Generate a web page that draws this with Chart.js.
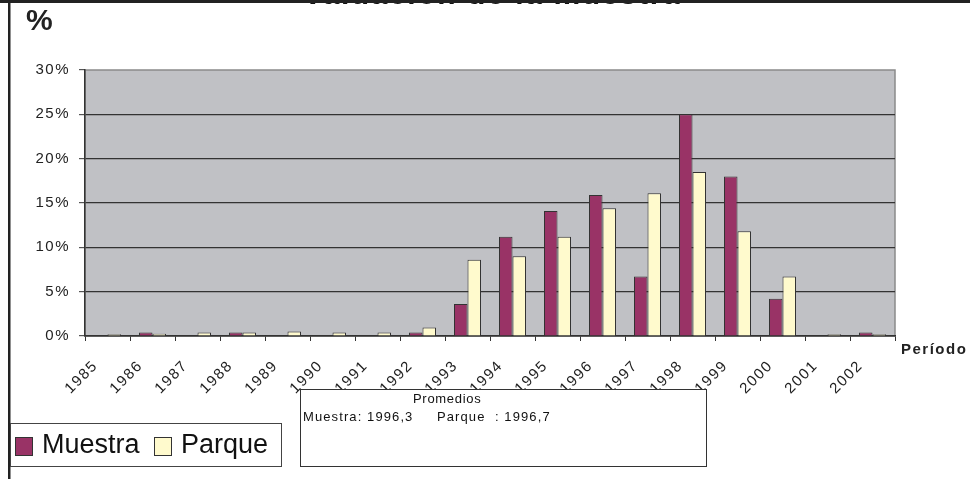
<!DOCTYPE html>
<html>
<head>
<meta charset="utf-8">
<script src="https://cdn.jsdelivr.net/npm/chart.js@4/dist/chart.umd.min.js"></script>
<style>
  html, body { margin: 0; padding: 0; background: #fff; }
  #wrap { position: relative; width: 970px; height: 479px; }
</style>
</head>
<body>
<div id="wrap"><canvas id="chart" width="970" height="479"></canvas></div>
<script>
// Valuación de la muestra - distribución por período
const years = ["1985", "1986", "1987", "1988", "1989", "1990", "1991", "1992", "1993",
  "1994", "1995", "1996", "1997", "1998", "1999", "2000", "2001", "2002"];
const muestra = [0, 0.4, 0, 0.4, 0, 0, 0, 0.4, 3.6, 11.2, 14.1, 15.9, 6.7, 25.0, 18.0, 4.2, 0, 0.4];
const parque = [0.2, 0.25, 0.4, 0.4, 0.5, 0.4, 0.4, 0.95, 8.6, 9.0, 11.2, 14.4, 16.1, 18.5, 11.8, 6.7, 0.2, 0.2];
const yTicks = [0, 5, 10, 15, 20, 25, 30];

const FONT = 'Arial, "Liberation Sans", sans-serif';
const MUESTRA_COLOR = "#993366";
const PARQUE_COLOR = "#FFFACD";

Chart.defaults.font.family = FONT;
Chart.defaults.color = "#222";

// plot background, frame, title, legend and note box
const decorPlugin = {
  id: "decor",
  beforeDraw(chart) {
    const { ctx, chartArea: a } = chart;
    ctx.save();
    ctx.fillStyle = "#fff";
    ctx.fillRect(0, 0, chart.width, chart.height);
    ctx.fillStyle = "#C0C1C5";
    ctx.fillRect(a.left, a.top, a.right - a.left, a.bottom - a.top);
    ctx.strokeStyle = "#8a8a8a";
    ctx.lineWidth = 1.5;
    ctx.strokeRect(a.left, a.top, a.right - a.left, a.bottom - a.top);
    ctx.restore();
    ctx.letterSpacing = "1.5px";
  },
  afterDraw(chart) {
    const ctx = chart.ctx;
    ctx.save();
    ctx.letterSpacing = "0px";

    // title, mostly cut off by the top edge
    ctx.fillStyle = "#111";
    ctx.font = "bold 30px " + FONT;
    ctx.letterSpacing = "1.6px";
    ctx.textAlign = "center";
    ctx.textBaseline = "alphabetic";
    ctx.fillText("Valuación de la muestra", 492, 4);

    // outer frame (top and left)
    ctx.fillStyle = "#222";
    ctx.fillRect(0, 0, 970, 3);
    ctx.fillRect(8, 0, 2.5, 479);

    // "%" unit label
    ctx.letterSpacing = "0px";
    ctx.textAlign = "left";
    ctx.font = "bold 30px " + FONT;
    ctx.fillText("%", 26, 30);

    // x axis title
    ctx.font = "bold 15px " + FONT;
    ctx.letterSpacing = "1.5px";
    ctx.fillText("Período", 901, 354);

    // legend box
    ctx.letterSpacing = "0px";
    ctx.fillStyle = "#fff";
    ctx.fillRect(10, 423, 271, 44);
    ctx.strokeStyle = "#444";
    ctx.lineWidth = 1;
    ctx.strokeRect(10.5, 423.5, 271, 43);
    const items = [
      { label: "Muestra", color: MUESTRA_COLOR, x: 15 },
      { label: "Parque", color: PARQUE_COLOR, x: 154 },
    ];
    ctx.font = "27px " + FONT;
    items.forEach((it) => {
      ctx.fillStyle = it.color;
      ctx.fillRect(it.x, 437, 18, 19);
      ctx.strokeStyle = "#333";
      ctx.strokeRect(it.x + 0.5, 437.5, 17, 18);
      ctx.fillStyle = "#111";
      ctx.fillText(it.label, it.x + 27, 453);
    });

    // averages box
    ctx.fillStyle = "#fff";
    ctx.fillRect(300, 389, 407, 78);
    ctx.strokeStyle = "#333";
    ctx.strokeRect(300.5, 389.5, 406, 77);
    ctx.fillStyle = "#111";
    ctx.font = "13px " + FONT;
    ctx.letterSpacing = "0.7px";
    ctx.fillText("Promedios", 413, 403);
    ctx.letterSpacing = "1.1px";
    ctx.fillText("Muestra: 1996,3", 303, 421);
    ctx.fillText("Parque  : 1996,7", 437, 421);
    ctx.restore();
  },
};

const ctx = document.getElementById("chart").getContext("2d");
const chart = new Chart(ctx, {
  type: "bar",
  data: {
    labels: years,
    datasets: [
      {
        label: "Muestra",
        data: muestra,
        backgroundColor: MUESTRA_COLOR,
        borderColor: "#333",
        borderWidth: 1,
        categoryPercentage: 0.6,
        barPercentage: 1.0,
      },
      {
        label: "Parque",
        data: parque,
        backgroundColor: PARQUE_COLOR,
        borderColor: "#333",
        borderWidth: 1,
        categoryPercentage: 0.6,
        barPercentage: 1.0,
      },
    ],
  },
  options: {
    responsive: false,
    animation: false,
    layout: { padding: { left: 0, right: 75, top: 70, bottom: 0 } },
    plugins: {
      legend: { display: false },
      tooltip: { enabled: false },
    },
    scales: {
      x: {
        afterFit(scale) { scale.height = 143; },
        grid: {
          offset: true,
          drawOnChartArea: false,
          tickLength: 5,
          tickColor: "#333",
        },
        border: { color: "#333", width: 1.5 },
        ticks: {
          autoSkip: false,
          minRotation: 45,
          maxRotation: 45,
          padding: 16,
          labelOffset: -12,
          font: { size: 15 },
          color: "#222",
        },
      },
      y: {
        min: 0,
        max: 30,
        afterFit(scale) { scale.width = 85; },
        afterBuildTicks(scale) { scale.ticks = yTicks.map((v) => ({ value: v })); },
        grid: {
          color: (c) => (c.tick && c.tick.value === 30 ? "rgba(0,0,0,0)" : "#333"),
          lineWidth: 1.2,
          tickLength: 6,
          tickColor: "#555",
        },
        border: { color: "#333", width: 1.5 },
        ticks: {
          padding: 9,
          font: { size: 15 },
          color: "#222",
          callback: (v) => v + "%",
        },
      },
    },
  },
  plugins: [decorPlugin],
});
</script>
</body>
</html>
